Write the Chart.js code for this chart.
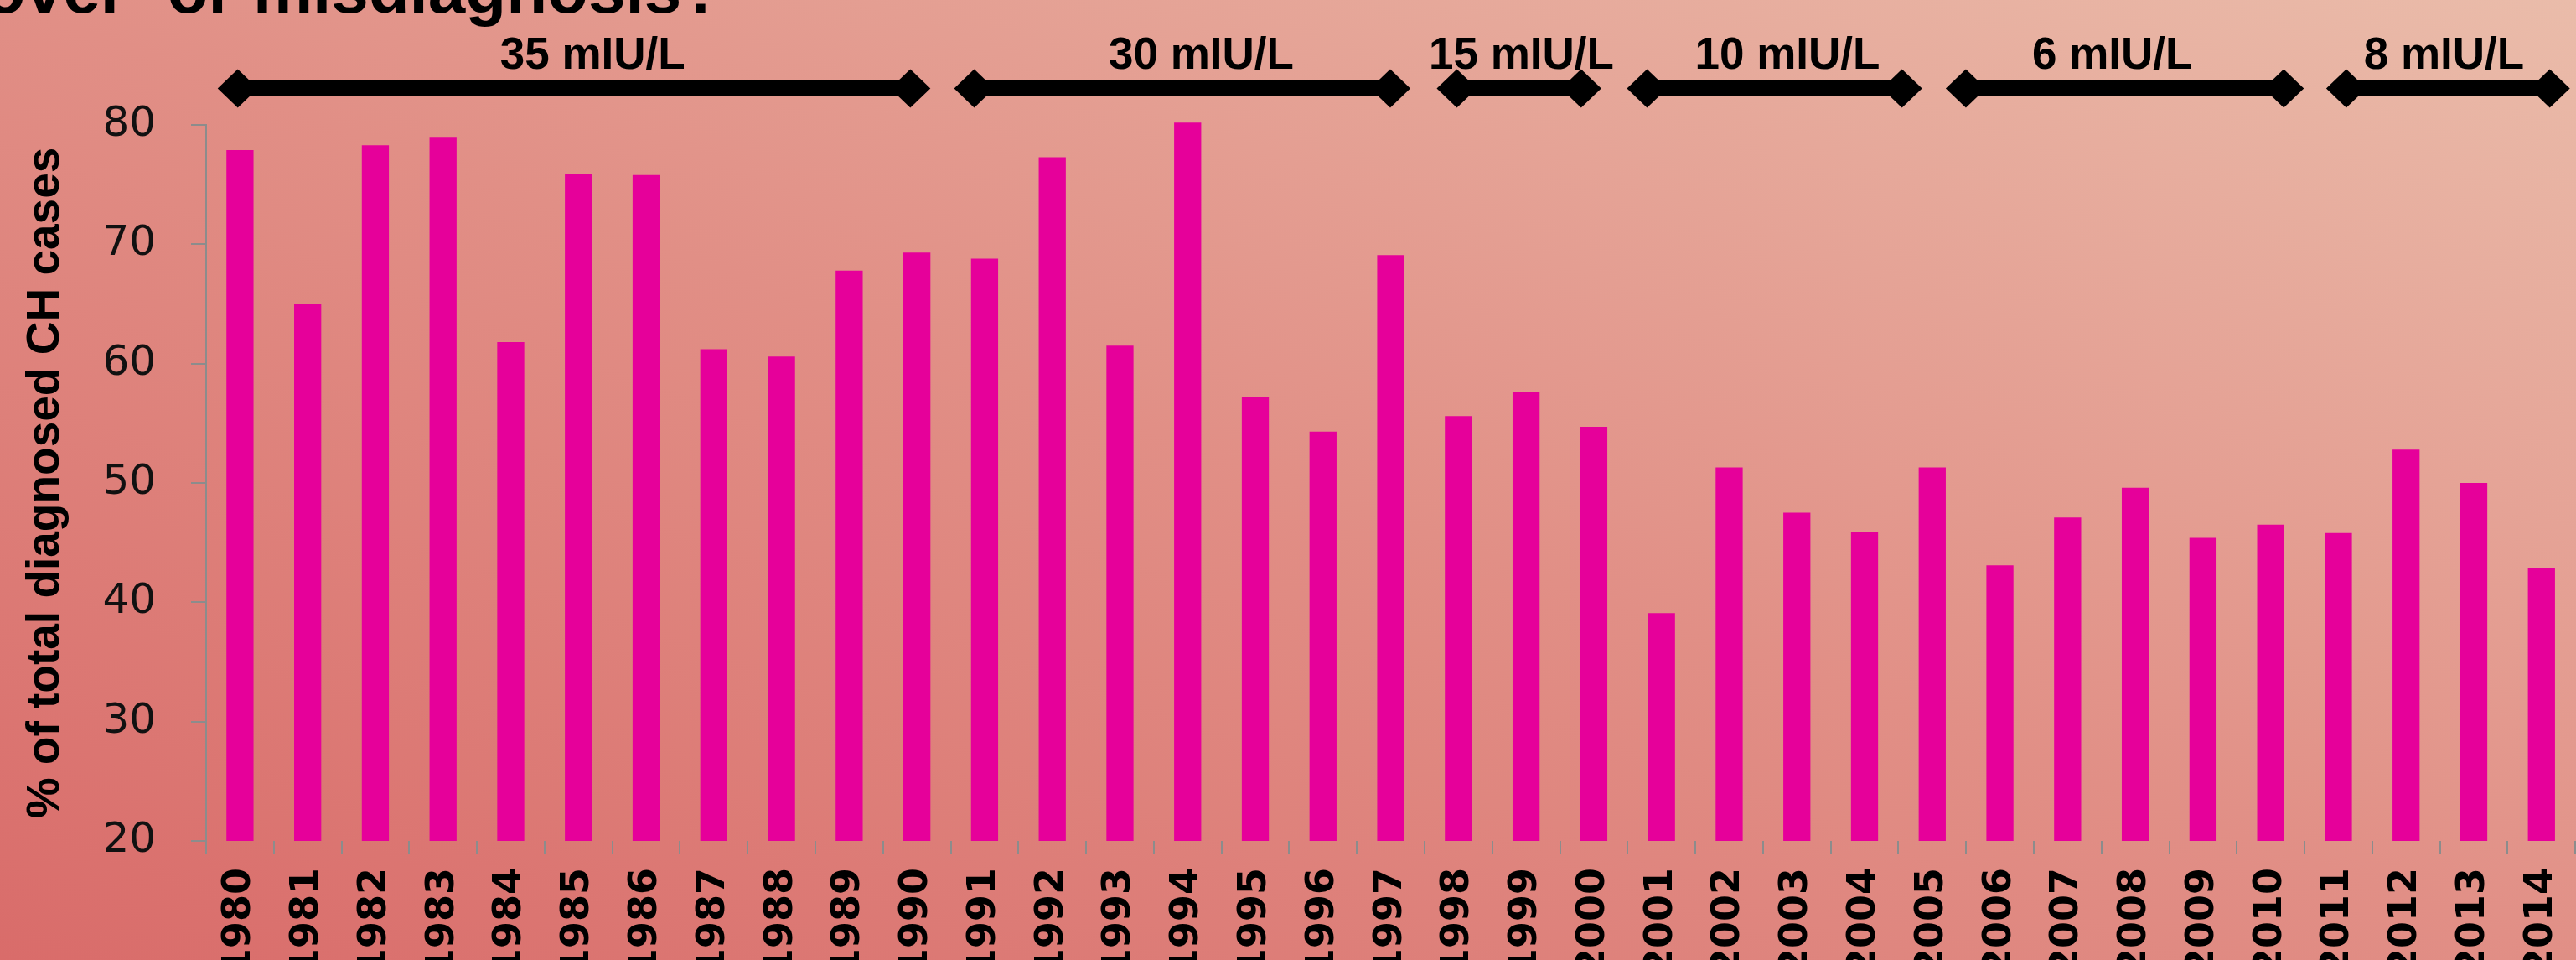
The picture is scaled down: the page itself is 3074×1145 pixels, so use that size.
<!DOCTYPE html>
<html>
<head>
<meta charset="utf-8">
<script src="https://cdn.jsdelivr.net/npm/chart.js@4/dist/chart.umd.min.js"></script>
<style>
  html, body { margin: 0; padding: 0; }
  body {
    width: 3074px;
    height: 1145px;
    overflow: hidden;
    position: relative;
    background: linear-gradient(to top right, #d96c6a 0%, #e18f86 50%, #eabcaa 100%);
  }
  #heading {
    position: absolute;
    left: 862px;
    top: -52px;
    transform: translateX(-100%);
    font: bold 80px "Liberation Sans", Arial, sans-serif;
    line-height: 1;
    white-space: nowrap;
    color: #000;
  }
  #wrap { position: absolute; left: 0; top: 0; width: 3104px; height: 1200px; }
</style>
</head>
<body>
<div id="heading">over- or misdiagnosis?</div>
<div id="wrap"><canvas id="chart" width="3104" height="1200"></canvas></div>
<script>
const years = ['1980', '1981', '1982', '1983', '1984', '1985', '1986', '1987', '1988', '1989',
               '1990', '1991', '1992', '1993', '1994', '1995', '1996', '1997', '1998', '1999',
               '2000', '2001', '2002', '2003', '2004', '2005', '2006', '2007', '2008', '2009',
               '2010', '2011', '2012', '2013', '2014'];

const shareOfCases = [77.9, 65.0, 78.3, 79.0, 61.8, 75.9, 75.8, 61.2, 60.6, 67.8,
                      69.3, 68.8, 77.3, 61.5, 80.2, 57.2, 54.3, 69.1, 55.6, 57.6,
                      54.7, 39.1, 51.3, 47.5, 45.9, 51.3, 43.1, 47.1, 49.6, 45.4,
                      46.5, 45.8, 52.8, 50.0, 42.9];

const cutoffLabels = ['35 mIU/L', '30 mIU/L', '15 mIU/L', '10 mIU/L', '6 mIU/L', '8 mIU/L'];

// arrow start, arrow end, label centre -- in category units (0 = 1980)
const cutoffArrows = [
  [-0.33, 10.20, 5.21],
  [10.55, 17.29, 14.20],
  [17.68, 20.11, 18.93],
  [20.49, 24.85, 22.86],
  [25.20, 30.49, 27.66],
  [30.82, 34.42, 32.56]
];

const axisGrey = '#8c8c8c';

function diamond(ctx, cx, cy, hw, hh) {
  ctx.beginPath();
  ctx.moveTo(cx - hw, cy);
  ctx.lineTo(cx, cy - hh);
  ctx.lineTo(cx + hw, cy);
  ctx.lineTo(cx, cy + hh);
  ctx.closePath();
  ctx.fill();
}

// double-headed arrows marking each screening cutoff period
const cutoffPlugin = {
  id: 'cutoffs',
  afterDraw(chart) {
    const { ctx } = chart;
    const x = chart.scales.x;
    const y = 105.5, shaft = 19, hw = 24, hh = 23;
    ctx.save();
    ctx.fillStyle = '#000';
    ctx.font = 'bold 53px "Liberation Sans", Arial, sans-serif';
    ctx.textAlign = 'center';
    ctx.textBaseline = 'alphabetic';
    cutoffArrows.forEach(([from, to, mid], i) => {
      const x0 = x.getPixelForValue(from);
      const x1 = x.getPixelForValue(to);
      ctx.fillRect(x0 + hw, y - shaft / 2, x1 - x0 - 2 * hw, shaft);
      diamond(ctx, x0 + hw, y, hw, hh);
      diamond(ctx, x1 - hw, y, hw, hh);
      ctx.fillText(cutoffLabels[i], x.getPixelForValue(mid), 82);
    });
    ctx.restore();
  }
};

new Chart(document.getElementById('chart'), {
  type: 'bar',
  data: {
    labels: years,
    datasets: [{
      data: shareOfCases,
      backgroundColor: '#e6009a',
      barPercentage: 0.4,
      categoryPercentage: 1,
      // 1994 pokes just past the 80 line
      clip: { left: 0, top: 6, right: 0, bottom: 0 }
    }]
  },
  options: {
    responsive: false,
    animation: false,
    layout: { padding: { top: 149, right: 2, left: 0, bottom: 0 } },
    plugins: {
      legend: { display: false },
      tooltip: { enabled: false }
    },
    scales: {
      x: {
        offset: true,
        border: { display: false },
        grid: {
          offset: true,
          drawOnChartArea: false,
          drawTicks: true,
          tickLength: 16,
          color: axisGrey,
          lineWidth: 2
        },
        ticks: {
          autoSkip: false,
          minRotation: 90,
          maxRotation: 90,
          padding: 16,
          color: '#000',
          font: { family: '"DejaVu Sans", Verdana, sans-serif', size: 46, weight: 'bold' }
        },
        afterFit: (scale) => { scale.height = 197; }
      },
      y: {
        min: 20,
        max: 80,
        border: { display: true, color: axisGrey, width: 2 },
        grid: {
          drawOnChartArea: false,
          drawTicks: true,
          tickLength: 18,
          color: axisGrey,
          lineWidth: 2
        },
        ticks: {
          stepSize: 10,
          padding: 42,
          color: '#111',
          font: { family: '"DejaVu Sans", Verdana, sans-serif', size: 50 }
        },
        title: {
          display: true,
          text: '% of total diagnosed CH cases',
          color: '#000',
          padding: { top: 22, bottom: 0 },
          font: { family: '"Liberation Sans", Arial, sans-serif', size: 55, weight: 'bold' }
        },
        afterFit: (scale) => { scale.width = 246; }
      }
    }
  },
  plugins: [cutoffPlugin]
});
</script>
</body>
</html>
